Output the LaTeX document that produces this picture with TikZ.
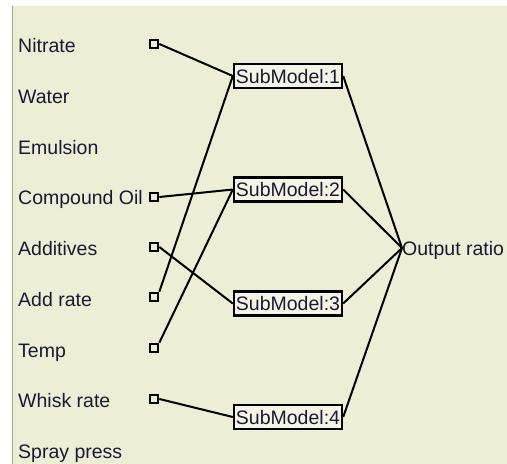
\documentclass[tikz,border=0pt]{standalone}
\usepackage{fontspec}
\setmainfont{Liberation Sans}
\usepackage{tikz}
\usetikzlibrary{positioning, calc}
\definecolor{panelbg}{RGB}{236,239,214}
\definecolor{panelline}{RGB}{165,165,150}
\definecolor{inktext}{RGB}{25,25,50}
\tikzset{
  invar/.style   = {anchor=base west, inner sep=0pt, text=inktext,
                    font=\fontsize{19.5pt}{20pt}\selectfont},
  port/.style    = {draw, line width=2.2pt, minimum size=8.5pt, inner sep=0pt},
  submodel/.style= {draw, line width=2.4pt, fill=panelbg!60!white,
                    minimum width=108pt, minimum height=24pt, inner sep=0pt,
                    text height=14pt, text depth=0pt, text=inktext,
                    font=\fontsize{19.5pt}{20pt}\selectfont},
  outvar/.style  = {anchor=west, inner sep=0pt, text height=14pt, text depth=0pt,
                    text=inktext, font=\fontsize{19.5pt}{20pt}\selectfont},
  link/.style    = {line width=2pt},
}

\begin{document}
\begin{tikzpicture}[x=1pt, y=-1pt]
  \useasboundingbox (0,0) rectangle (507,464);
  \fill[panelbg] (12,6) rectangle (507,464);
  \draw[panelline, line width=1pt] (12.5,6) -- (12.5,464);

  % input variables
  \node[invar] (vNitrate)  at (18,52)  {Nitrate};
  \node[invar] (vWater)    at (18,103) {Water};
  \node[invar] (vEmulsion) at (18,154) {Emulsion};
  \node[invar] (vOil)      at (18,204) {Compound Oil};
  \node[invar] (vAdd)      at (18,255) {Additives};
  \node[invar] (vAddRate)  at (18,306) {Add rate};
  \node[invar] (vTemp)     at (18,357) {Temp};
  \node[invar] (vWhisk)    at (18,407) {Whisk rate};
  \node[invar] (vSpray)    at (18,458) {Spray press};

  % ports of the used inputs
  \node[port] (pNitrate) at (154,44)  {};
  \node[port] (pOil)     at (154,197) {};
  \node[port] (pAdd)     at (154,247) {};
  \node[port] (pAddRate) at (154,297) {};
  \node[port] (pTemp)    at (154,348) {};
  \node[port] (pWhisk)   at (154,399) {};

  % sub models and output
  \node[submodel] (sm1) at (288,76)    {SubModel:1};
  \node[submodel] (sm2) at (288,189.5) {SubModel:2};
  \node[submodel] (sm3) at (288,303.5) {SubModel:3};
  \node[submodel] (sm4) at (288,417)   {SubModel:4};
  \node[outvar]   (out) at (402,248)   {Output ratio};

  \foreach \a/\b in {pNitrate.east/sm1, pAddRate.north east/sm1,
                     pOil.east/sm2, pTemp.north east/sm2,
                     pAdd.east/sm3, pWhisk.east/sm4}
    \draw[link] (\a) -- (\b.west);

  \foreach \s in {sm1, sm2, sm3, sm4}
    \draw[link] (\s.east) -- (out.west);
\end{tikzpicture}
\end{document}
